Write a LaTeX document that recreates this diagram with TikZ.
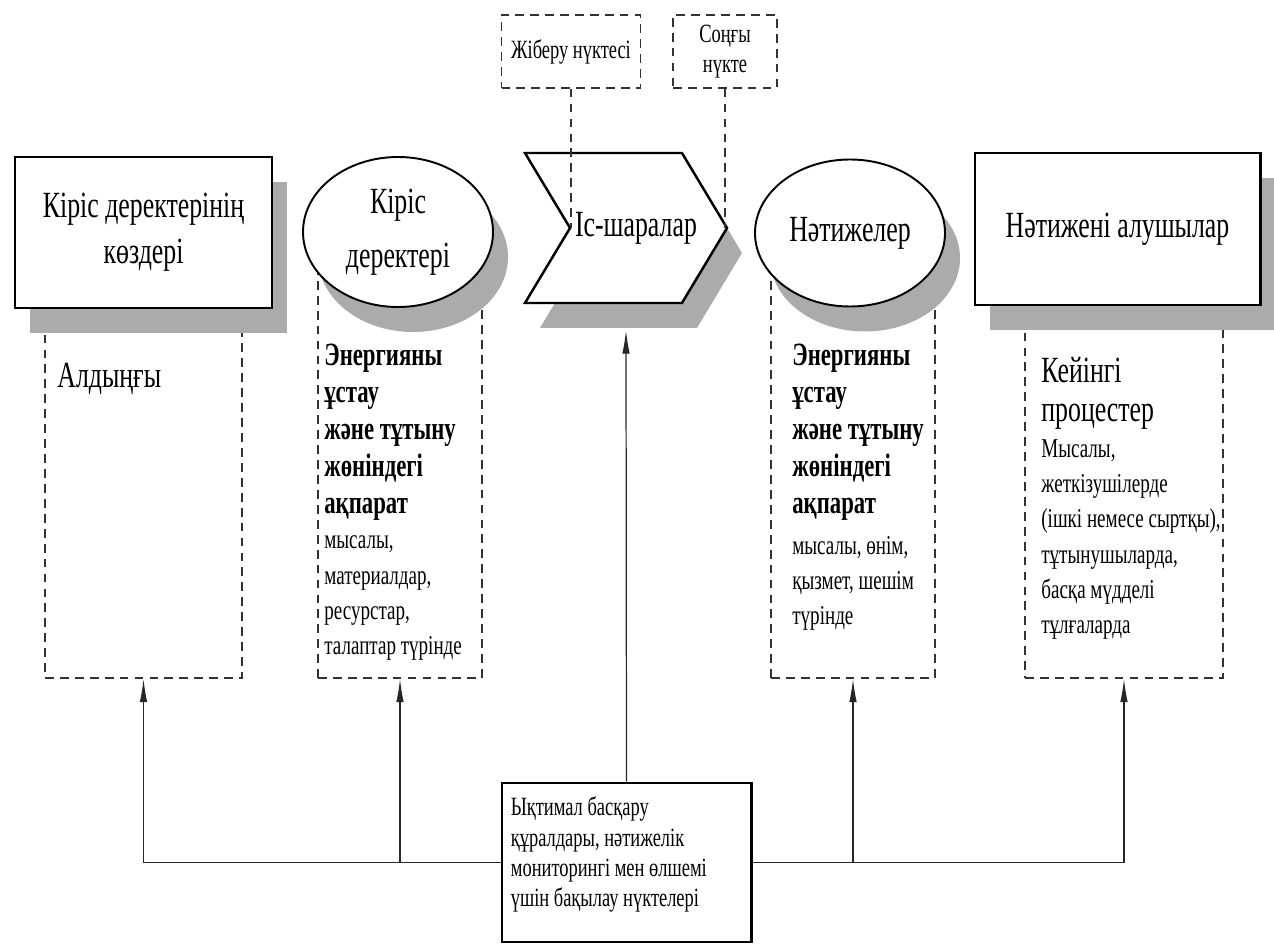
\documentclass[tikz,border=0pt]{standalone}
\usepackage{fontspec}
\setmainfont{Liberation Serif}[FakeStretch=0.7]
\usetikzlibrary{arrows.meta}
\usetikzlibrary{shadows}
\usetikzlibrary{positioning}
\usetikzlibrary{shapes.geometric}
\usetikzlibrary{shapes.symbols}
\tikzset{block/.style={draw, fill=white, line width=1.7pt, drop shadow={shadow xshift=0.3cm, shadow yshift=-0.5cm, fill=black!33, opacity=1}}}
\tikzset{area/.style={draw=black!80, dash pattern=on 5pt off 3.5pt, line width=0.8pt}}
\tikzset{connect/.style={draw=black!85, line width=0.7pt}}
\tikzset{feed/.style={connect, -{Latex[length=0.47cm,width=0.15cm]}}}
\tikzset{note/.style={inner sep=0pt, align=left, anchor=north west}}
\tikzset{bigtext/.style={font=\fontsize{21}{26}\selectfont}}
\tikzset{ovaltext/.style={font=\fontsize{21}{31}\selectfont}}
\tikzset{boldtext/.style={font=\fontsize{18.5}{21}\selectfont\bfseries}}
\tikzset{plaintext/.style={font=\fontsize{15.5}{20}\selectfont}}
\tikzset{sidetext/.style={font=\fontsize{21}{22}\selectfont}}
\tikzset{pointtext/.style={font=\fontsize{15}{17}\selectfont}}
\tikzset{ctrltext/.style={font=\fontsize{15}{17.3}\selectfont}}

\begin{document}
\begin{tikzpicture}[x=0.2mm, y=-0.2mm]
\useasboundingbox (0,0) rectangle (1274,944);

%dashed areas
\node[area, minimum width=3.94cm, minimum height=7.56cm] (prebox) at (143.5,489) {};
\node[area, minimum width=3.28cm, minimum height=8.16cm] (inbox) at (400,474) {};
\node[area, minimum width=3.28cm, minimum height=8.16cm] (outbox) at (853,474) {};
\node[area, minimum width=3.96cm, minimum height=7.56cm] (postbox) at (1124,489) {};

%main blocks
\node[block, bigtext, align=center, minimum width=5.14cm, minimum height=3.02cm] (srcbox) at (143.5,232.5) {Кіріс деректерінің\\көздері};
\node[block, ellipse, line width=1.1pt, ovaltext, align=center, inner sep=0pt, minimum width=3.8cm, minimum height=3cm] (inputs) at (398,232) {Кіріс\\деректері};
\node[block, signal, signal from=west, signal to=east, signal pointer angle=118, line width=1.4pt, bigtext, inner xsep=-0.3cm, minimum width=3.96cm, minimum height=3cm] (act) at (626,228) {\hspace*{0.4cm}Іс-шаралар};
\node[block, ellipse, line width=1.1pt, bigtext, inner sep=0pt, minimum width=3.8cm, minimum height=2.94cm] (results) at (850,233) {Нәтижелер};
\node[block, bigtext, minimum width=5.7cm, minimum height=3.04cm] (recv) at (1117.5,229) {Нәтижені алушылар};

%send / end points
\node[area, pointtext, minimum width=2.78cm, minimum height=1.46cm] (sendpt) at (571,51.5) {Жіберу нүктесі};
\node[area, pointtext, align=center, minimum width=2.08cm, minimum height=1.46cm] (endpt) at (725,51.5) {Соңғы\\нүкте};
\path[area] (sendpt.south) -- (sendpt.south |- act.center);
\path[area] (endpt.south) -- (endpt.south |- act.center);

%texts in areas
\node[bigtext, inner sep=0pt, anchor=west] (pretext) at (57,379) {Алдыңғы};
\node[note, boldtext] (inhead) at (324,344) {Энергияны\\ұстау\\және тұтыну\\жөніндегі\\ақпарат};
\node[note, plaintext] (innote) at ([yshift=-0.3cm]inhead.south west) {мысалы,\\материалдар,\\ресурстар,\\талаптар түрінде};
\node[note, boldtext] (outhead) at (792,344) {Энергияны\\ұстау\\және тұтыну\\жөніндегі\\ақпарат};
\node[note, plaintext] (outnote) at ([yshift=-0.3cm]outhead.south west) {мысалы, өнім,\\қызмет, шешім\\түрінде};
\node[note, sidetext] (posthead) at (1041,357) {Кейінгі\\процестер};
\node[note, plaintext] (postnote) at ([yshift=-0.2cm]posthead.south west) {Мысалы,\\жеткізушілерде\\(ішкі немесе сыртқы),\\тұтынушыларда,\\басқа мүдделі\\тұлғаларда};

%control points
\node[draw, fill=white, line width=1.7pt, minimum width=4.98cm, minimum height=3.18cm] (ctrlbox) at (626.5,862.5) {};
\node[note, ctrltext] (ctrlnote) at ([xshift=0.2cm,yshift=-0.3cm]ctrlbox.north west) {Ықтимал басқару\\құралдары, нәтижелік\\мониторингі мен өлшемі\\үшін бақылау нүктелері};

\path[connect] (prebox.south |- ctrlbox.west) -- (ctrlbox.west);
\path[connect] (ctrlbox.east) -- (postbox.south |- ctrlbox.east);
\path[feed] (prebox.south |- ctrlbox.west) -- (prebox.south);
\path[feed] (inbox.south |- ctrlbox.west) -- (inbox.south);
\path[feed] (outbox.south |- ctrlbox.east) -- (outbox.south);
\path[feed] (postbox.south |- ctrlbox.east) -- (postbox.south);
\path[feed] (ctrlbox.north) -- ([yshift=-0.52cm]act.south);

\end{tikzpicture}
\end{document}
